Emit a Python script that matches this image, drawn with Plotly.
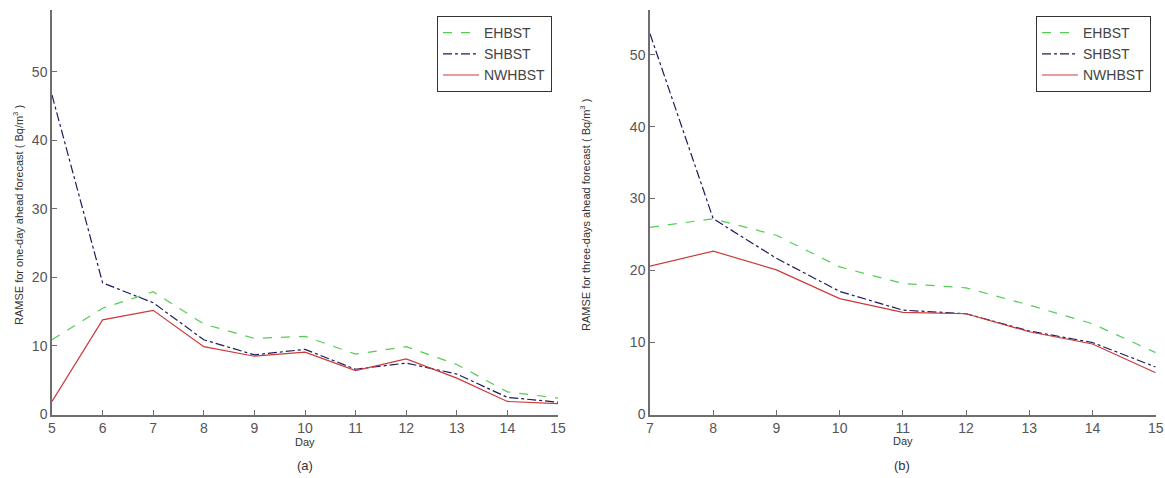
import plotly.graph_objects as go

days_a = [5, 6, 7, 8, 9, 10, 11, 12, 13, 14, 15]
ehbst_a = [10.9, 15.5, 17.9, 13.2, 11.1, 11.4, 8.8, 9.9, 7.3, 3.3, 2.4]
shbst_a = [46.6, 19.2, 16.3, 10.9, 8.7, 9.5, 6.6, 7.5, 5.9, 2.5, 1.8]
nwhbst_a = [1.9, 13.8, 15.2, 9.9, 8.5, 9.1, 6.4, 8.1, 5.3, 1.9, 1.6]

days_b = [7, 8, 9, 10, 11, 12, 13, 14, 15]
ehbst_b = [26.0, 27.2, 24.9, 20.5, 18.2, 17.6, 15.2, 12.6, 8.6]
shbst_b = [52.9, 27.2, 21.7, 17.1, 14.5, 14.0, 11.6, 10.0, 6.6]
nwhbst_b = [20.6, 22.7, 20.1, 16.1, 14.2, 14.0, 11.5, 9.8, 5.8]

series_names = ["EHBST", "SHBST", "NWHBST"]
colors = ["#55cc55", "#1c1c5c", "#cc3a3a"]
dashes = ["dash", "dashdot", "solid"]

fig = go.Figure()

for name, ys, c, d in zip(series_names, [ehbst_a, shbst_a, nwhbst_a], colors, dashes):
    fig.add_trace(go.Scatter(x=days_a, y=ys, mode="lines", name=name,
                             line=dict(color=c, dash=d, width=1.2),
                             xaxis="x", yaxis="y", legend="legend"))
for name, ys, c, d in zip(series_names, [ehbst_b, shbst_b, nwhbst_b], colors, dashes):
    fig.add_trace(go.Scatter(x=days_b, y=ys, mode="lines", name=name,
                             line=dict(color=c, dash=d, width=1.2),
                             xaxis="x2", yaxis="y2", legend="legend2"))

axis_common = dict(showline=True, linecolor="#6e6e6e", linewidth=1.5, ticks="inside",
                   ticklen=5, tickcolor="#6e6e6e", showgrid=False, zeroline=False,
                   tickfont=dict(family="Liberation Sans, Arial", size=14, color="#555555"),
                   mirror=False, automargin=False)

ydom = [1 - 414.5 / 478, 1 - 10 / 478]
leg_common = dict(xanchor="right", yanchor="top",
                  bordercolor="#333333", borderwidth=1, bgcolor="white",
                  font=dict(family="Liberation Sans, Arial", size=14, color="#444444"),
                  itemwidth=36, tracegroupgap=0)
fig.update_layout(
    width=1165, height=478,
    margin=dict(l=0, r=0, t=0, b=0, autoexpand=False),
    paper_bgcolor="white", plot_bgcolor="white",
    xaxis=dict(domain=[52 / 1165, 558 / 1165], range=[5, 15], dtick=1, anchor="y", **axis_common),
    yaxis=dict(domain=ydom, range=[0, 59], tickvals=[0, 10, 20, 30, 40, 50], anchor="x", **axis_common),
    xaxis2=dict(domain=[650 / 1165, 1155.7 / 1165], range=[7, 15], dtick=1, anchor="y2", **axis_common),
    yaxis2=dict(domain=ydom, range=[0, 56.2], tickvals=[0, 10, 20, 30, 40, 50], anchor="x2", **axis_common),
    legend=dict(x=552 / 1165, y=1 - 16 / 478, **leg_common),
    legend2=dict(x=1151 / 1165, y=1 - 16 / 478, **leg_common),
    showlegend=True,
)

lab_font = dict(family="Liberation Sans, Arial", size=11, color="#333333")
annots = [
    dict(x=18 / 1165, y=1 - 215 / 478, text="RAMSE for one-day ahead forecast ( Bq/m<sup>3</sup> )", textangle=-90),
    dict(x=585 / 1165, y=1 - 215 / 478, text="RAMSE for three-days ahead forecast ( Bq/m<sup>3</sup> )", textangle=-90),
    dict(x=305 / 1165, y=1 - 442 / 478, text="Day"),
    dict(x=903 / 1165, y=1 - 441 / 478, text="Day"),
]
for a in annots:
    fig.add_annotation(xref="paper", yref="paper", showarrow=False, font=lab_font,
                       xanchor="center", yanchor="middle", **a)
sub_font = dict(family="Liberation Sans, Arial", size=13, color="#333333")
fig.add_annotation(xref="paper", yref="paper", x=305 / 1165, y=1 - 465 / 478, text="(a)",
                   showarrow=False, font=sub_font, xanchor="center", yanchor="middle")
fig.add_annotation(xref="paper", yref="paper", x=902 / 1165, y=1 - 465 / 478, text="(b)",
                   showarrow=False, font=sub_font, xanchor="center", yanchor="middle")

fig.write_html("out.html", config={"displayModeBar": False},
               post_script="document.body.style.margin='0';document.body.style.overflow='hidden';")
